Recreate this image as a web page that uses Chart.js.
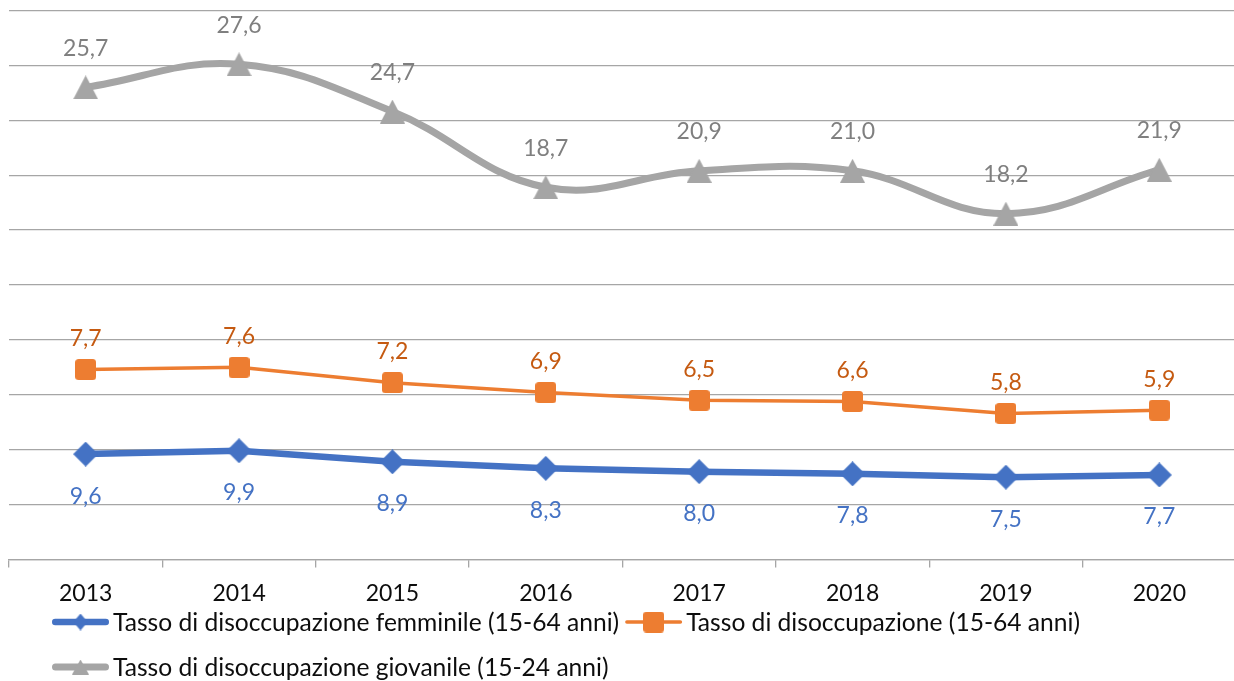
<!DOCTYPE html>
<html lang="it">
<head>
<meta charset="utf-8">
<title>Tassi di disoccupazione 2013-2020</title>
<script src="https://cdn.jsdelivr.net/npm/chart.js@4/dist/chart.umd.min.js"></script>
<style>
  html, body { margin: 0; padding: 0; background: #ffffff; overflow: hidden; }
  #wrap { position: relative; width: 1236px; height: 681px; }
</style>
</head>
<body>
<div id="wrap"><canvas id="chart"></canvas></div>
<script>
// Anni
const years = ['2013', '2014', '2015', '2016', '2017', '2018', '2019', '2020'];

// Tasso di disoccupazione femminile (15-64 anni)
const femminile = [9.6, 9.9, 8.9, 8.3, 8.0, 7.8, 7.5, 7.7];
// Tasso di disoccupazione (15-64 anni)
const totale = [7.7, 7.6, 7.2, 6.9, 6.5, 6.6, 5.8, 5.9];
// Tasso di disoccupazione giovanile (15-24 anni)
const giovanile = [25.7, 27.6, 24.7, 18.7, 20.9, 21.0, 18.2, 21.9];

const seriesNames = [
  'Tasso di disoccupazione femminile (15-64 anni)',
  'Tasso di disoccupazione (15-64 anni)',
  'Tasso di disoccupazione giovanile (15-24 anni)'
];

const BLUE = '#4472C4';
const ORANGE = '#ED7D31';
const GREY = '#A5A5A5';
const FONT = 'Lato, "Open Sans", sans-serif';

// Marker images
function makeMarker(w, h, color, shape) {
  const c = document.createElement('canvas');
  c.width = w; c.height = h;
  const g = c.getContext('2d');
  g.fillStyle = color;
  g.beginPath();
  if (shape === 'diamond') {
    g.moveTo(w / 2, 0); g.lineTo(w, h / 2); g.lineTo(w / 2, h); g.lineTo(0, h / 2);
  } else if (shape === 'triangle') {
    g.moveTo(w / 2, 0); g.lineTo(w, h); g.lineTo(0, h);
  } else {
    const r = 3.5;
    g.moveTo(r, 0); g.lineTo(w - r, 0); g.quadraticCurveTo(w, 0, w, r);
    g.lineTo(w, h - r); g.quadraticCurveTo(w, h, w - r, h);
    g.lineTo(r, h); g.quadraticCurveTo(0, h, 0, h - r);
    g.lineTo(0, r); g.quadraticCurveTo(0, 0, r, 0);
  }
  g.closePath();
  g.fill();
  return c;
}

const markers = {
  diamond: makeMarker(25, 25, BLUE, 'diamond'),
  square: makeMarker(21, 21, ORANGE, 'square'),
  triangle: makeMarker(25, 24, GREY, 'triangle')
};
const legendMarkers = [
  makeMarker(14, 17, BLUE, 'diamond'),
  makeMarker(21, 21, ORANGE, 'square'),
  makeMarker(17, 15, GREY, 'triangle')
];

const fmt = v => v.toFixed(1).replace('.', ',');

// Value labels above/below each point
const valueLabels = {
  id: 'valueLabels',
  afterDatasetsDraw(chart) {
    const ctx = chart.ctx;
    ctx.save();
    ctx.font = '23px ' + FONT;
    ctx.textAlign = 'center';
    ctx.textBaseline = 'middle';
    chart.data.datasets.forEach((ds, i) => {
      const meta = chart.getDatasetMeta(i);
      ctx.fillStyle = ds.labelColor;
      meta.data.forEach((pt, j) => {
        ctx.fillText(fmt(ds.data[j]), pt.x, pt.y + ds.labelShift);
      });
    });
    ctx.restore();
  }
};

// Legend below the axis: line + marker swatch, then the series name
const lineLegend = {
  id: 'lineLegend',
  afterDraw(chart, args, opts) {
    const ctx = chart.ctx;
    ctx.save();
    ctx.font = opts.fontSize + 'px ' + FONT;
    ctx.textBaseline = 'middle';
    ctx.textAlign = 'left';
    let x = opts.left;
    let row = 0;
    chart.data.datasets.forEach((ds, i) => {
      const textW = ctx.measureText(ds.label).width;
      const itemW = opts.swatch + opts.textGap + textW;
      if (x + itemW > chart.width - 2 && x > opts.left) { row++; x = opts.left; }
      const y = opts.rows[row];
      ctx.strokeStyle = ds.borderColor;
      ctx.lineWidth = ds.borderWidth;
      ctx.lineCap = 'round';
      ctx.beginPath();
      ctx.moveTo(x + ds.borderWidth / 2, y);
      ctx.lineTo(x + opts.swatch - ds.borderWidth / 2, y);
      ctx.stroke();
      const m = legendMarkers[i];
      ctx.drawImage(m, x + opts.swatch / 2 - m.width / 2, y - m.height / 2);
      ctx.fillStyle = '#0d0d0d';
      ctx.fillText(ds.label, x + opts.swatch + opts.textGap, y + 1);
      x += itemW + opts.itemGap;
    });
    ctx.restore();
  }
};

new Chart(document.getElementById('chart'), {
  type: 'line',
  data: {
    labels: years,
    datasets: [
      {
        label: seriesNames[0],
        data: femminile,
        borderColor: BLUE,
        backgroundColor: BLUE,
        borderWidth: 6.5,
        pointStyle: markers.diamond,
        tension: 0,
        labelColor: '#4472C4',
        labelShift: 42
      },
      {
        label: seriesNames[1],
        data: totale,
        borderColor: ORANGE,
        backgroundColor: ORANGE,
        borderWidth: 3.5,
        pointStyle: markers.square,
        tension: 0,
        labelColor: '#C55A11',
        labelShift: -31
      },
      {
        label: seriesNames[2],
        data: giovanile,
        borderColor: GREY,
        backgroundColor: GREY,
        borderWidth: 7,
        pointStyle: markers.triangle,
        tension: 0.4,
        labelColor: '#7F7F7F',
        labelShift: -39
      }
    ]
  },
  options: {
    responsive: true,
    maintainAspectRatio: false,
    animation: false,
    events: [],
    layout: { autoPadding: false, padding: { left: 9, right: 0, top: 10.5, bottom: 0 } },
    elements: {
      line: { borderCapStyle: 'round', borderJoinStyle: 'round', fill: false },
      point: { radius: 12 }
    },
    scales: {
      x: {
        offset: true,
        grid: {
          offset: true,
          drawOnChartArea: false,
          drawTicks: true,
          tickLength: 8,
          color: '#A6A6A6',
          lineWidth: 1.3
        },
        border: { display: true, color: '#A6A6A6', width: 1.3 },
        ticks: {
          color: '#0d0d0d',
          font: { family: FONT, size: 23 },
          padding: 12,
          maxRotation: 0,
          autoSkip: false
        },
        afterFit(scale) { scale.height = 121.5; }
      },
      y: {
        stacked: true,
        min: 0,
        max: 50,
        ticks: { display: false, stepSize: 5 },
        grid: { color: '#A6A6A6', lineWidth: 1.3, drawTicks: false },
        border: { display: false },
        afterFit(scale) { scale.width = 0; }
      }
    },
    plugins: {
      legend: { display: false },
      tooltip: { enabled: false },
      lineLegend: {
        left: 52,
        swatch: 57,
        textGap: 4,
        itemGap: 6,
        fontSize: 24.6,
        rows: [622, 667]
      }
    }
  },
  plugins: [valueLabels, lineLegend]
});
</script>
</body>
</html>
